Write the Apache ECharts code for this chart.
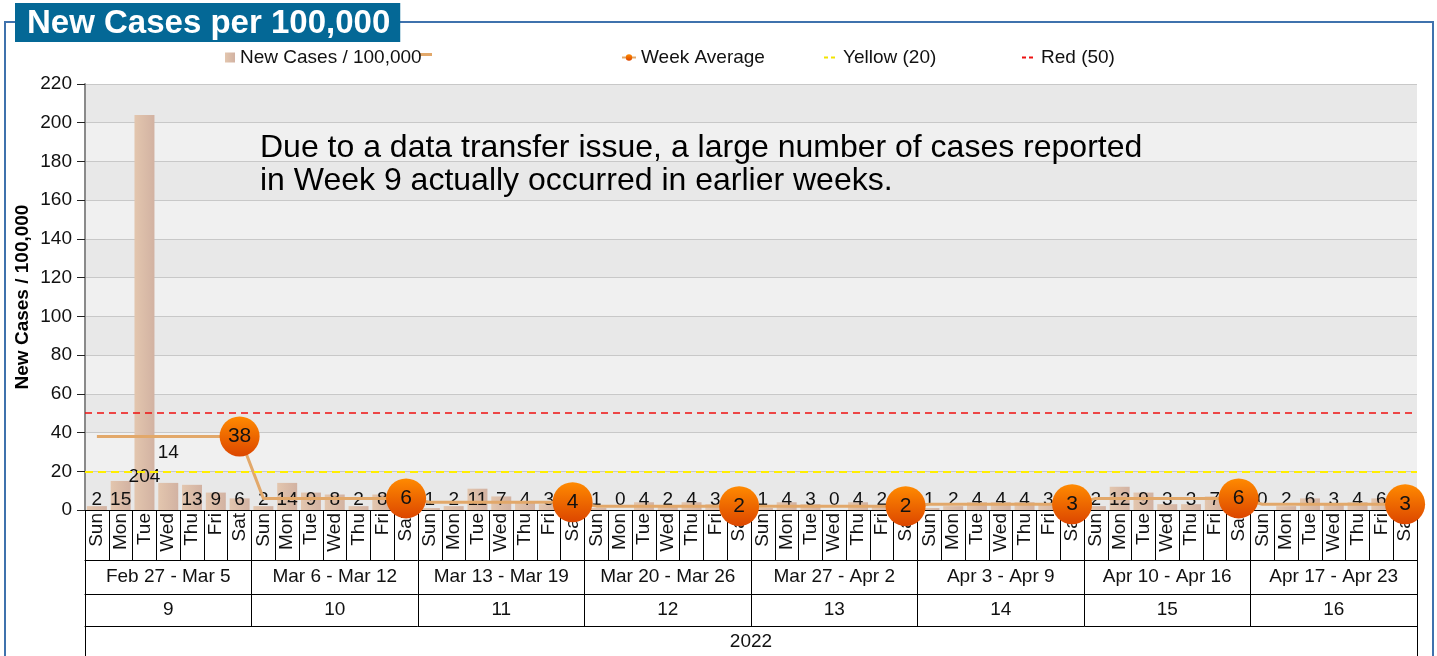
<!DOCTYPE html>
<html>
<head>
<meta charset="utf-8">
<script src="https://cdn.jsdelivr.net/npm/echarts@6/dist/echarts.min.js"></script>
<style>
html,body{margin:0;padding:0;background:#fff;}
#chart{width:1437px;height:656px;}
</style>
</head>
<body>
<div id="chart"></div>
<script>
// ---- DATA ----
const dayNames = ['Sun','Mon','Tue','Wed','Thu','Fri','Sat'];
const weekRanges = ['Feb 27 - Mar 5','Mar 6 - Mar 12','Mar 13 - Mar 19','Mar 20 - Mar 26','Mar 27 - Apr 2','Apr 3 - Apr 9','Apr 10 - Apr 16','Apr 17 - Apr 23'];
const weekNumbers = ['9','10','11','12','13','14','15','16'];
const years = ['2022'];
const newCases = [
  2, 15, 204, 14, 13, 9, 6,
  2, 14, 9, 8, 2, 8, 1,
  1, 2, 11, 7, 4, 3, 1,
  1, 0, 4, 2, 4, 3, 1,
  1, 4, 3, 0, 4, 2, 2,
  1, 2, 4, 4, 4, 3, 2,
  2, 12, 9, 3, 3, 7, 5,
  0, 2, 6, 3, 4, 6, 1
];
const weekAverages = [38, 6, 4, 2, 2, 3, 6, 3];
const yellowLevel = 20;
const redLevel = 50;
const yTicks = {min: 0, max: 220, interval: 20};
const annotation = 'Due to a data transfer issue, a large number of cases reported\nin Week 9 actually occurred in earlier weeks.';

// ---- BUILD ----
const days = [];
weekRanges.forEach(() => dayNames.forEach(d => days.push(d)));
const avgDaily = [];
weekAverages.forEach(a => { for (let i = 0; i < 7; i++) avgDaily.push(a); });

const FONT = 'Liberation Sans, Arial, sans-serif';
const FS = 19;
const labelAdjust = {
  2: {distance: 24},
  3: {distance: 48}
};
const barData = newCases.map((v, i) => {
  const o = {value: v};
  if (labelAdjust[i]) o.label = labelAdjust[i];
  return o;
});

const chart = echarts.init(document.getElementById('chart'));
const legendText = {fontSize: FS, color: '#111', fontFamily: FONT};
const option = {
  animation: false,
  title: {
    text: 'New Cases per 100,000',
    left: 15, top: 3,
    backgroundColor: '#046896',
    padding: [4, 10, 2, 12],
    textStyle: {color: '#fff', fontSize: 33, fontWeight: 'bold', fontFamily: FONT, lineHeight: 33}
  },
  legend: [
    {data: ['New Cases / 100,000'], left: 220, top: 43, itemWidth: 10, itemHeight: 10, icon: 'rect', textStyle: legendText, itemGap: 4},
    {data: ['Week Average'], left: 616, top: 43, itemWidth: 14, itemHeight: 8, textStyle: legendText},
    {data: ['Yellow (20)'], left: 818, top: 43, itemWidth: 14, itemHeight: 8, textStyle: legendText, itemStyle: {opacity: 0}},
    {data: ['Red (50)'], left: 1016, top: 43, itemWidth: 14, itemHeight: 8, textStyle: legendText, itemStyle: {opacity: 0}}
  ],
  grid: {left: 85, right: 20, top: 84, bottom: 146},
  xAxis: [
    {
      type: 'category', data: days, position: 'bottom',
      axisLine: {lineStyle: {color: '#000', width: 1}},
      axisTick: {show: true, interval: 0, length: 50, lineStyle: {color: '#000'}},
      axisLabel: {interval: 0, rotate: 90, fontSize: FS, color: '#111', fontFamily: FONT, margin: 3}
    },
    {
      type: 'category', data: weekRanges, position: 'bottom', offset: 50,
      axisLine: {lineStyle: {color: '#000'}},
      axisTick: {show: true, interval: 0, length: 34, lineStyle: {color: '#000'}},
      axisLabel: {interval: 0, fontSize: FS, color: '#111', fontFamily: FONT, margin: 7}
    },
    {
      type: 'category', data: weekNumbers, position: 'bottom', offset: 84,
      axisLine: {lineStyle: {color: '#000'}},
      axisTick: {show: true, interval: 0, length: 32, lineStyle: {color: '#000'}},
      axisLabel: {interval: 0, fontSize: FS, color: '#111', fontFamily: FONT, margin: 6}
    },
    {
      type: 'category', data: years, position: 'bottom', offset: 116,
      axisLine: {lineStyle: {color: '#000'}},
      axisTick: {show: true, interval: 0, length: 40, lineStyle: {color: '#000'}},
      axisLabel: {interval: 0, fontSize: FS, color: '#111', fontFamily: FONT, margin: 6}
    }
  ],
  yAxis: {
    type: 'value', min: yTicks.min, max: yTicks.max, interval: yTicks.interval,
    name: 'New Cases / 100,000', nameLocation: 'middle', nameGap: 53, nameMoveOverlap: false,
    nameTextStyle: {fontSize: FS, fontWeight: 'bold', color: '#000', fontFamily: FONT},
    axisLine: {show: true, lineStyle: {color: '#8a8a8a', width: 2}},
    axisTick: {show: true, length: 8, lineStyle: {color: '#222'}},
    axisLabel: {fontSize: FS, color: '#111', fontFamily: FONT, margin: 13},
    splitLine: {show: true, lineStyle: {color: '#c8c8c8', width: 1}},
    splitArea: {show: true, areaStyle: {color: ['#e8e8e8', '#f0f0f0']}}
  },
  series: [
    {
      name: 'New Cases / 100,000', type: 'bar', data: barData,
      barCategoryGap: '16%',
      itemStyle: {color: new echarts.graphic.LinearGradient(0, 0, 1, 0, [
        {offset: 0, color: '#e3c6ae'}, {offset: 1, color: '#d2b2a2'}])},
      label: {show: true, position: 'insideBottom', distance: 1, fontSize: FS, color: '#111', fontFamily: FONT},
      z: 2
    },
    {
      name: 'Week Average', type: 'line', data: avgDaily, z: 4,
      symbol: 'circle',
      symbolSize: (v, p) => (p.dataIndex % 7 === 6 ? 40 : 0),
      showAllSymbol: true,
      lineStyle: {color: '#e2a86a', width: 3},
      itemStyle: {color: new echarts.graphic.LinearGradient(0, 0, 0, 1, [
        {offset: 0, color: '#ff8a00'}, {offset: 1, color: '#dc4600'}])},
      label: {
        show: true, position: 'inside', fontSize: 21, color: '#111', fontFamily: FONT,
        formatter: p => (p.dataIndex % 7 === 6 ? String(p.value) : '')
      }
    },
    {
      name: 'Yellow (20)', type: 'line', data: [],
      itemStyle: {color: '#f2e400'}, lineStyle: {color: '#f2e400', type: [4, 3], width: 1}, symbol: 'none',
      markLine: {silent: true, symbol: 'none', label: {show: false},
        lineStyle: {color: '#ffee00', width: 2, type: [8, 5]}, data: [{yAxis: yellowLevel}]}
    },
    {
      name: 'Red (50)', type: 'line', data: [],
      itemStyle: {color: '#ee1111'}, lineStyle: {color: '#ee1111', type: [4, 3], width: 1}, symbol: 'none',
      markLine: {silent: true, symbol: 'none', label: {show: false},
        lineStyle: {color: '#ee1111', width: 1.5, type: [7, 5]}, data: [{yAxis: redLevel}]}
    }
  ],
  graphic: [
    {type: 'polyline', shape: {points: [[15, 22], [5, 22], [5, 656]]}, style: {stroke: '#3f72ad', lineWidth: 2, fill: null}, z: 0},
    {type: 'polyline', shape: {points: [[400, 22], [1433, 22], [1433, 656]]}, style: {stroke: '#3f72ad', lineWidth: 2, fill: null}, z: 0},
    {type: 'rect', shape: {x: 420, y: 53, width: 12, height: 3}, style: {fill: '#e2a86a'}},
    {type: 'text', left: 260, top: 132, z: 10,
      style: {text: annotation, fontSize: 32, fill: '#000', fontFamily: FONT, lineHeight: 33}}
  ]
};
chart.setOption(option);
</script>
</body>
</html>
